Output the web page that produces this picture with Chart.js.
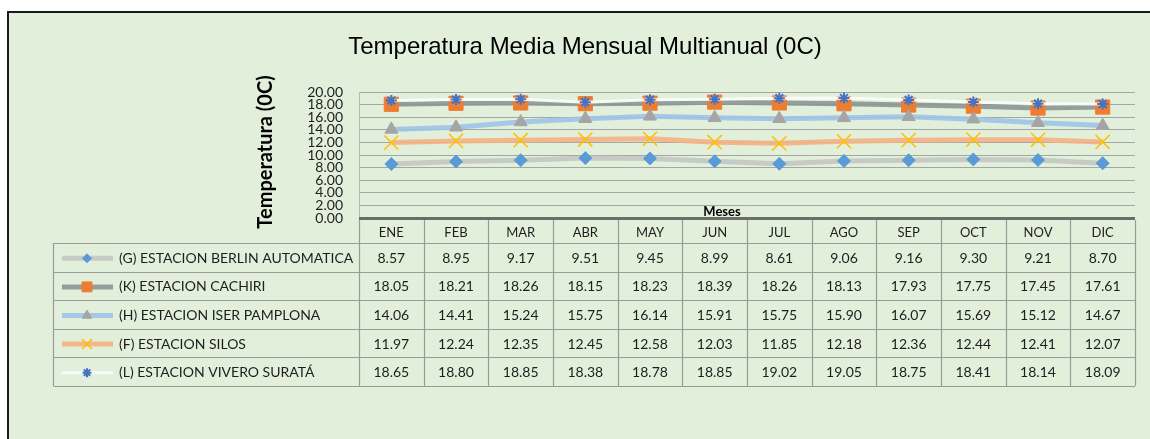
<!DOCTYPE html>
<html>
<head>
<meta charset="utf-8">
<script src="https://cdn.jsdelivr.net/npm/chart.js@4.4.1/dist/chart.umd.min.js"></script>
<style>
  html, body { margin: 0; padding: 0; background: #fff; }
  #wrap { position: relative; width: 1150px; height: 439px; }
</style>
</head>
<body>
<div id="wrap"><canvas id="temp-chart" width="1150" height="439"></canvas></div>
<script>
const meses = ["ENE", "FEB", "MAR", "ABR", "MAY", "JUN", "JUL", "AGO", "SEP", "OCT", "NOV", "DIC"];
const estaciones = [
  "(G) ESTACION BERLIN AUTOMATICA",
  "(K) ESTACION CACHIRI",
  "(H) ESTACION ISER PAMPLONA",
  "(F) ESTACION SILOS",
  "(L) ESTACION VIVERO SURATÁ",
];
const berlin = [8.57, 8.95, 9.17, 9.51, 9.45, 8.99, 8.61, 9.06, 9.16, 9.30, 9.21, 8.70];
const cachiri = [18.05, 18.21, 18.26, 18.15, 18.23, 18.39, 18.26, 18.13, 17.93, 17.75, 17.45, 17.61];
const iser = [14.06, 14.41, 15.24, 15.75, 16.14, 15.91, 15.75, 15.90, 16.07, 15.69, 15.12, 14.67];
const silos = [11.97, 12.24, 12.35, 12.45, 12.58, 12.03, 11.85, 12.18, 12.36, 12.44, 12.41, 12.07];
const vivero = [18.65, 18.80, 18.85, 18.38, 18.78, 18.85, 19.02, 19.05, 18.75, 18.41, 18.14, 18.09];

const series = [berlin, cachiri, iser, silos, vivero];
// r: marcador en el grafico, rl: marcador en la tabla
const estilos = [
  { line: "rgba(196,199,194,0.9)", mark: "#5B9BD5", shape: "rectRot", r: 6.5, rl: 4.5, w: 5, bw: 1 },
  { line: "rgba(140,149,149,0.9)", mark: "#ED7D31", shape: "rect", r: 10, rl: 7, w: 5, bw: 1 },
  { line: "rgba(157,195,230,0.9)", mark: "#A5A5A5", shape: "triangle", r: 7.5, rl: 5.5, w: 5, bw: 1 },
  { line: "rgba(244,177,131,0.9)", mark: "#FFC000", shape: "crossRot", r: 10, rl: 7, w: 5, bw: 1.5 },
  { line: "rgba(250,252,248,0.95)", mark: "#4472C4", shape: "star", r: 5.5, rl: 4.5, w: 3, bw: 2 },
];

const TXT = "#1e1e1e";
const GRID = "#a3a6a1";
const BORDE = "#9a9a9a";

const tablaPlugin = {
  id: "tabla",
  beforeDraw(chart) {
    const c = chart.ctx;
    c.save();
    c.fillStyle = "#fff";
    c.fillRect(0, 0, chart.width, chart.height);
    c.fillStyle = "#E2EFDA";
    c.fillRect(8, 12, chart.width - 8, chart.height - 12);
    c.fillStyle = "#1a1a1a";
    c.fillRect(7, 11, chart.width - 7, 2);
    c.fillRect(7, 11, 2, chart.height - 11);
    c.restore();
  },
  afterDraw(chart) {
    const c = chart.ctx;
    const area = chart.chartArea;
    const x = chart.scales.x;
    const colW = (area.right - area.left) / meses.length;
    const headTop = area.bottom + 2;
    const rowTop = 243;
    const rowH = 28.6;
    const legL = 53.5;
    c.save();

    // titulos
    c.fillStyle = "#000";
    c.textAlign = "center";
    c.textBaseline = "middle";
    c.font = "24px 'Liberation Sans', Arial, sans-serif";
    c.fillText("Temperatura Media Mensual Multianual (0C)", 585, 47);

    c.save();
    c.translate(266, 152);
    c.rotate(-Math.PI / 2);
    c.font = "bold 20px Lato, 'Open Sans', sans-serif";
    c.fillText("Temperatura (0C)", 0, 0);
    c.restore();

    // tabla de datos
    c.strokeStyle = BORDE;
    c.lineWidth = 1.2;
    c.beginPath();
    for (let i = 0; i <= meses.length; i++) {
      const px = Math.round(area.left + i * colW) + 0.5;
      c.moveTo(px, headTop);
      c.lineTo(px, rowTop + rowH * series.length);
    }
    for (let k = 0; k <= series.length; k++) {
      const py = Math.round(rowTop + k * rowH) + 0.5;
      c.moveTo(legL, py);
      c.lineTo(area.right, py);
    }
    c.moveTo(legL, rowTop);
    c.lineTo(legL, rowTop + rowH * series.length);
    c.stroke();

    c.fillStyle = "#6b6d6a";
    c.fillRect(area.left, area.bottom - 1, area.right - area.left, 3);

    c.fillStyle = TXT;
    c.font = "13px Lato, 'Open Sans', sans-serif";
    meses.forEach((m, i) => {
      c.fillText(m, x.getPixelForValue(i), (headTop + rowTop) / 2 + 1);
    });
    c.font = "14px Lato, 'Open Sans', sans-serif";
    series.forEach((vals, k) => {
      const cy = rowTop + k * rowH + rowH / 2 + 1;
      vals.forEach((v, i) => {
        c.textAlign = "center";
        c.fillText(v.toFixed(2), x.getPixelForValue(i), cy);
      });
      // clave de leyenda
      const st = estilos[k];
      c.strokeStyle = st.line;
      c.lineWidth = st.w;
      c.beginPath();
      c.moveTo(62, cy);
      c.lineTo(113, cy);
      c.stroke();
      c.fillStyle = st.mark;
      c.strokeStyle = st.mark;
      c.lineWidth = st.bw;
      Chart.helpers.drawPoint(c, { pointStyle: st.shape, radius: st.rl, rotation: 0, borderWidth: st.bw }, 87, cy);
      c.fillStyle = TXT;
      c.textAlign = "left";
      c.fillText(estaciones[k], 119, cy);
    });

    c.textAlign = "center";
    c.font = "bold 13px Lato, 'Open Sans', sans-serif";
    c.fillStyle = "#000";
    c.fillText("Meses", 722, area.bottom - 6);
    c.restore();
  },
};

const ctx = document.getElementById("temp-chart").getContext("2d");
const chart = new Chart(ctx, {
  type: "line",
  data: {
    labels: meses,
    datasets: series.map((vals, i) => ({
      label: estaciones[i],
      data: vals,
      order: series.length - i,
      borderColor: estilos[i].line,
      borderWidth: estilos[i].w,
      backgroundColor: estilos[i].mark,
      pointStyle: estilos[i].shape,
      pointRadius: estilos[i].r,
      pointBackgroundColor: estilos[i].mark,
      pointBorderColor: estilos[i].mark,
      pointBorderWidth: estilos[i].bw,
      tension: 0,
      fill: false,
    })),
  },
  options: {
    responsive: false,
    animation: false,
    layout: { padding: { top: 92, right: 15, bottom: 221, left: 0 } },
    plugins: { legend: { display: false }, title: { display: false }, tooltip: { enabled: false } },
    scales: {
      x: {
        offset: true,
        grid: { display: false, drawTicks: false },
        border: { display: false },
        ticks: { display: false },
      },
      y: {
        min: 0,
        max: 20,
        afterFit(scale) { scale.width = 359; },
        grid: { color: GRID, lineWidth: 1, drawTicks: false },
        border: { color: "#b5b8b3", width: 1 },
        ticks: {
          stepSize: 2,
          autoSkip: false,
          padding: 16,
          color: TXT,
          font: { family: "Lato, 'Open Sans', sans-serif", size: 14, lineHeight: 1 },
          callback: (v) => v.toFixed(2),
        },
      },
    },
  },
  plugins: [tablaPlugin],
});
</script>
</body>
</html>
